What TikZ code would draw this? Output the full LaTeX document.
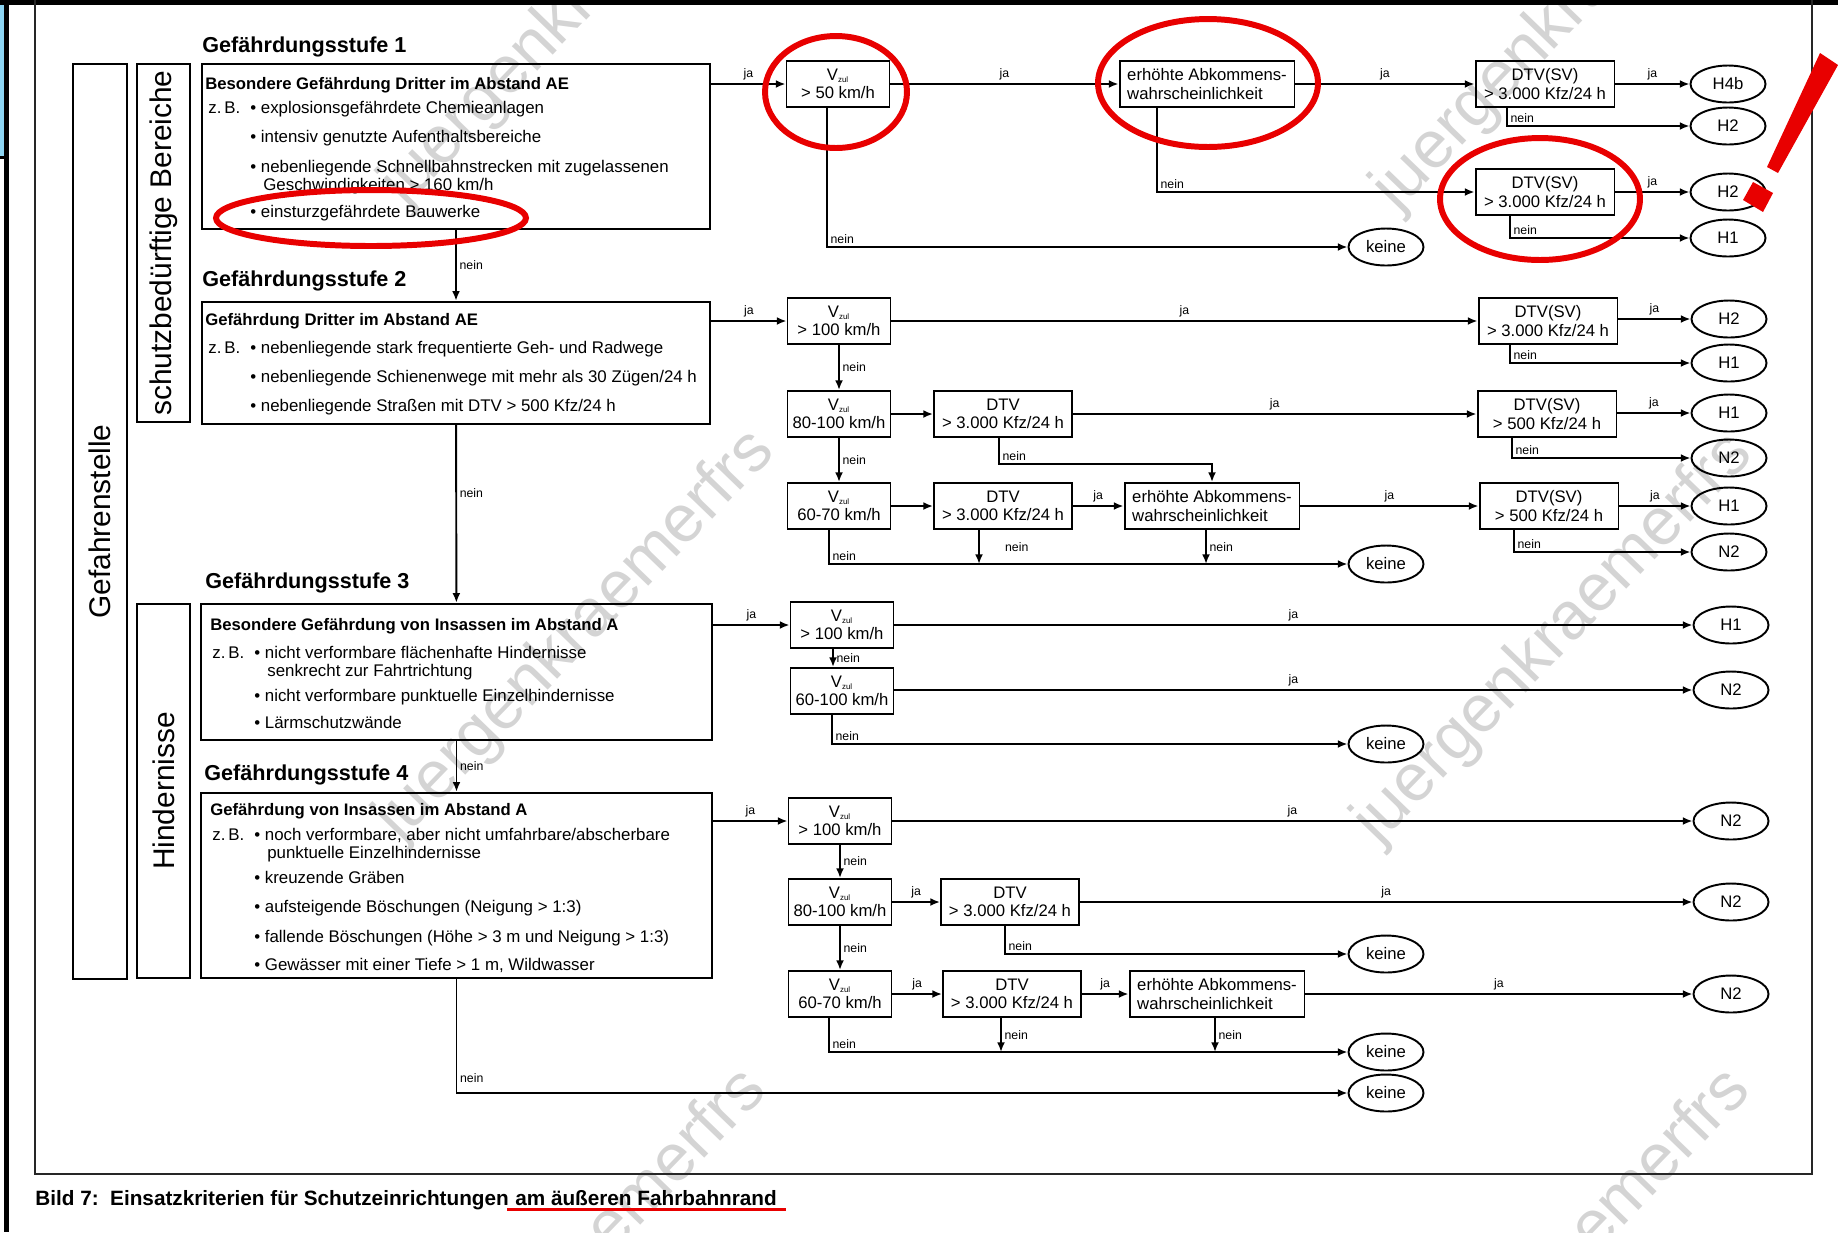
\documentclass[tikz,border=0pt]{standalone}
\usepackage{fontspec}
\setmainfont{Liberation Sans}
\usetikzlibrary{shapes.geometric, arrows.meta, positioning}
\definecolor{markred}{RGB}{232,0,0}
\definecolor{tabblue}{RGB}{140,212,242}
\newcommand{\vzul}{V\textsubscript{\fontsize{4.5}{5}\selectfont zul}}
\tikzset{
  frame/.style={line width=0.8pt, draw=black!85},
  bigbox/.style={rectangle, draw=black, line width=1.4pt, inner sep=0pt},
  sidebox/.style={rectangle, draw=black, line width=1.4pt, inner sep=0pt, rotate=90,
                  font=\fontsize{17}{20}\selectfont},
  head/.style={anchor=base west, inner sep=0pt, font=\bfseries\fontsize{12.3}{14}\selectfont},
  txt/.style={anchor=west, inner sep=0pt, font=\fontsize{9.6}{11}\selectfont,
              text height=1.6ex, text depth=0.4ex},
  ttl/.style={txt, font=\bfseries\fontsize{9.5}{11}\selectfont},
  vbox/.style={rectangle, draw=black, line width=1.1pt, align=center, inner sep=1pt,
               font=\fontsize{9.5}{10.5}\selectfont, minimum width=2.06cm, minimum height=0.92cm},
  dtvbox/.style={vbox, minimum width=2.76cm},
  svbox/.style={vbox, minimum width=2.78cm},
  erhbox/.style={vbox, align=left, minimum width=3.5cm},
  result/.style={ellipse, draw=black, line width=1.1pt, minimum width=1.5cm,
                 minimum height=0.74cm, inner sep=0pt, font=\fontsize{9.5}{11}\selectfont},
  arr/.style={-{Latex[length=5.5pt, width=4.5pt]}, line width=1.1pt},
  lbl/.style={font=\fontsize{7}{8}\selectfont, inner sep=1.5pt},
  caption/.style={anchor=base west, inner sep=0pt, font=\bfseries\fontsize{11.8}{13}\selectfont},
  redmark/.style={draw=markred, line width=3.4pt},
  wmark/.style={anchor=base west, inner sep=0pt, rotate=46, text=black!17,
                font=\fontsize{38}{40}\selectfont},
}

\begin{document}
\begin{tikzpicture}[x=0.02cm, y=-0.02cm]
  \useasboundingbox (0,0) rectangle (1838,1232);

  % watermark
  \begin{scope}
    \clip (0,0) rectangle (1838,1232);
    \foreach \wx/\wy in {405/208, 1397/213, 400/843, 1378/846, 392/1482, 1376/1482}
      \node[wmark] (wm\wx\wy) at (\wx,\wy) {juergenkraemerfrs};
  \end{scope}

  % page frame
  \fill[black] (0,0) rectangle (1838,5);
  \fill[black] (4,0) rectangle (9,1232);
  \fill[tabblue] (0,5) rectangle (4,156);
  \fill[black] (0,156) rectangle (4,159);
  \draw[frame] (35,0) -- (35,1174) -- (1812,1174) -- (1812,0);

  % side boxes
  \node[sidebox, minimum width=18.3cm, minimum height=1.08cm] (gst) at (100,521.5) {Gefahrenstelle};
  \node[sidebox, minimum width=7.16cm, minimum height=1.06cm] (sbb) at (163.5,243) {schutzbedürftige Bereiche};
  \node[sidebox, minimum width=7.48cm, minimum height=1.06cm] (hdn) at (163.5,791) {Hindernisse};

  % Gefährdungsstufe 1
  \node[head] (g1) at (202,52) {Gefährdungsstufe 1};
  \node[bigbox, minimum width=10.16cm, minimum height=3.3cm] (b1) at (456,146.5) {};
  \node[ttl] (b1t) at (205,84) {Besondere Gefährdung Dritter im Abstand AE};
  \node[txt] (b1z) at (208,108) {z.\,B.};
  \node[txt] (b1a) at (250,108) {\textbullet\ explosionsgefährdete Chemieanlagen};
  \node[txt] (b1b) at (250,137) {\textbullet\ intensiv genutzte Aufenthaltsbereiche};
  \node[txt] (b1c) at (250,167) {\textbullet\ nebenliegende Schnellbahnstrecken mit zugelassenen};
  \node[txt] (b1d) at (263,185) {Geschwindigkeiten > 160 km/h};
  \node[txt] (b1e) at (250,212) {\textbullet\ einsturzgefährdete Bauwerke};

  % Gefährdungsstufe 2
  \node[head] (g2) at (202,286) {Gefährdungsstufe 2};
  \node[bigbox, minimum width=10.16cm, minimum height=2.44cm] (b2) at (456,363) {};
  \node[ttl] (b2t) at (205,320) {Gefährdung Dritter im Abstand AE};
  \node[txt] (b2z) at (208,348) {z.\,B.};
  \node[txt] (b2a) at (250,348) {\textbullet\ nebenliegende stark frequentierte Geh- und Radwege};
  \node[txt] (b2b) at (250,377) {\textbullet\ nebenliegende Schienenwege mit mehr als 30 Zügen/24 h};
  \node[txt] (b2c) at (250,406) {\textbullet\ nebenliegende Straßen mit DTV > 500 Kfz/24 h};

  % Gefährdungsstufe 3
  \node[head] (g3) at (205,588) {Gefährdungsstufe 3};
  \node[bigbox, minimum width=10.22cm, minimum height=2.72cm] (b3) at (456.5,672) {};
  \node[ttl] (b3t) at (210,625) {Besondere Gefährdung von Insassen im Abstand A};
  \node[txt] (b3z) at (212,653) {z.\,B.};
  \node[txt] (b3a) at (254,653) {\textbullet\ nicht verformbare flächenhafte Hindernisse};
  \node[txt] (b3b) at (267,671) {senkrecht zur Fahrtrichtung};
  \node[txt] (b3c) at (254,696) {\textbullet\ nicht verformbare punktuelle Einzelhindernisse};
  \node[txt] (b3d) at (254,723) {\textbullet\ Lärmschutzwände};

  % Gefährdungsstufe 4
  \node[head] (g4) at (204,780) {Gefährdungsstufe 4};
  \node[bigbox, minimum width=10.22cm, minimum height=3.7cm] (b4) at (456.5,885.5) {};
  \node[ttl] (b4t) at (210,810) {Gefährdung von Insassen im Abstand A};
  \node[txt] (b4z) at (212,835) {z.\,B.};
  \node[txt] (b4a) at (254,835) {\textbullet\ noch verformbare, aber nicht umfahrbare/abscherbare};
  \node[txt] (b4b) at (267,853) {punktuelle Einzelhindernisse};
  \node[txt] (b4c) at (254,878) {\textbullet\ kreuzende Gräben};
  \node[txt] (b4d) at (254,907) {\textbullet\ aufsteigende Böschungen (Neigung > 1:3)};
  \node[txt] (b4e) at (254,937) {\textbullet\ fallende Böschungen (Höhe > 3 m und Neigung > 1:3)};
  \node[txt] (b4f) at (254,965) {\textbullet\ Gewässer mit einer Tiefe > 1 m, Wildwasser};

  \draw[arr] (b1) -- (b2) node[lbl, midway, right] {nein};
  \draw[arr] (b2) -- (b3) node[lbl, pos=0.38, right] {nein};
  \draw[arr] (b3) -- (b4) node[lbl, midway, right] {nein};

  % Stufe 1 decisions
  \node[vbox] (vA) at (838,84) {\vzul\\> 50 km/h};
  \node[erhbox] (eA) at (1207,84) {erhöhte Abkommens-\\wahrscheinlichkeit};
  \node[svbox] (sA1) at (1545,84) {DTV(SV)\\> 3.000 Kfz/24 h};
  \node[svbox] (sA2) at (1545,192) {DTV(SV)\\> 3.000 Kfz/24 h};
  \node[result] (rA1) at (1728,84) {H4b};
  \node[result] (rA2) at (1728,126) {H2};
  \node[result] (rA3) at (1728,192) {H2};
  \node[result] (rA4) at (1728,238) {H1};
  \node[result] (kA) at (1386,247) {keine};

  \draw[arr] (b1.east |- vA) -- (vA) node[lbl, midway, above] {ja};
  \draw[arr] (vA) -- (eA) node[lbl, midway, above] {ja};
  \draw[arr] (eA) -- (sA1) node[lbl, midway, above] {ja};
  \draw[arr] (sA1.east |- rA1) -- (rA1) node[lbl, midway, above] {ja};
  \draw[arr] ([xshift=-0.76cm]sA1.south) |- (rA2) node[lbl, pos=0.5, above right] {nein};
  \draw[arr] ([xshift=-1cm]eA.south) |- (sA2) node[lbl, pos=0.5, above right] {nein};
  \draw[arr] (sA2.east |- rA3) -- (rA3) node[lbl, midway, above] {ja};
  \draw[arr] ([xshift=-0.7cm]sA2.south) |- (rA4) node[lbl, pos=0.5, above right] {nein};
  \draw[arr] ([xshift=-0.22cm]vA.south) |- (kA) node[lbl, pos=0.5, above right] {nein};

  % Stufe 2 decisions
  \node[vbox] (vB1) at (839,321) {\vzul\\> 100 km/h};
  \node[vbox] (vB2) at (839,414) {\vzul\\80-100 km/h};
  \node[vbox] (vB3) at (839,506) {\vzul\\60-70 km/h};
  \node[dtvbox] (dB1) at (1003,414) {DTV\\> 3.000 Kfz/24 h};
  \node[dtvbox] (dB2) at (1003,506) {DTV\\> 3.000 Kfz/24 h};
  \node[erhbox] (eB) at (1212,506) {erhöhte Abkommens-\\wahrscheinlichkeit};
  \node[svbox] (sB1) at (1548,321) {DTV(SV)\\> 3.000 Kfz/24 h};
  \node[svbox] (sB2) at (1547,414) {DTV(SV)\\> 500 Kfz/24 h};
  \node[svbox] (sB3) at (1549,506) {DTV(SV)\\> 500 Kfz/24 h};
  \node[result] (rB1) at (1729,319) {H2};
  \node[result] (rB2) at (1729,363) {H1};
  \node[result] (rB3) at (1729,413) {H1};
  \node[result] (rB4) at (1729,458) {N2};
  \node[result] (rB5) at (1729,506) {H1};
  \node[result] (rB6) at (1729,552) {N2};
  \node[result] (kB) at (1386,564) {keine};

  \draw[arr] (b2.east |- vB1) -- (vB1) node[lbl, midway, above] {ja};
  \draw[arr] (vB1) -- (sB1) node[lbl, midway, above] {ja};
  \draw[arr] (sB1.east |- rB1) -- (rB1) node[lbl, midway, above] {ja};
  \draw[arr] ([xshift=-0.76cm]sB1.south) |- (rB2) node[lbl, pos=0.5, above right] {nein};
  \draw[arr] (vB1) -- (vB2) node[lbl, midway, right] {nein};
  \draw[arr] (vB2) -- (dB1);
  \draw[arr] (dB1) -- (sB2) node[lbl, midway, above] {ja};
  \draw[arr] (sB2.east |- rB3) -- (rB3) node[lbl, midway, above] {ja};
  \draw[arr] ([xshift=-0.7cm]sB2.south) |- (rB4) node[lbl, pos=0.5, above right] {nein};
  \draw[arr] ([xshift=-0.08cm]dB1.south) -- ++(0,26) node[lbl, above right] {nein} -| (eB.north);
  \draw[arr] (vB2) -- (vB3) node[lbl, midway, right] {nein};
  \draw[arr] (vB3) -- (dB2);
  \draw[arr] (dB2) -- (eB) node[lbl, midway, above] {ja};
  \draw[arr] (eB) -- (sB3) node[lbl, midway, above] {ja};
  \draw[arr] (sB3.east |- rB5) -- (rB5) node[lbl, midway, above] {ja};
  \draw[arr] ([xshift=-0.7cm]sB3.south) |- (rB6) node[lbl, pos=0.5, above right] {nein};
  \draw[arr] ([xshift=-0.2cm]vB3.south) |- (kB) node[lbl, pos=0.5, above right] {nein};
  \draw[arr] ([xshift=-0.48cm]dB2.south) -- ([xshift=-0.48cm]dB2.south |- kB)
    node[lbl, midway, right, xshift=0.45cm] {nein};
  \draw[arr] ([xshift=-0.12cm]eB.south) -- ([xshift=-0.12cm]eB.south |- kB)
    node[lbl, midway, right] {nein};

  % Stufe 3 decisions
  \node[vbox] (vC1) at (842,625) {\vzul\\> 100 km/h};
  \node[vbox] (vC2) at (842,691) {\vzul\\60-100 km/h};
  \node[result] (rC1) at (1731,625) {H1};
  \node[result] (rC2) at (1731,690) {N2};
  \node[result] (kC) at (1386,744) {keine};

  \draw[arr] (b3.east |- vC1) -- (vC1) node[lbl, midway, above] {ja};
  \draw[arr] (vC1) -- (rC1) node[lbl, midway, above] {ja};
  \draw[arr] ([xshift=-0.18cm]vC1.south) -- ([xshift=-0.18cm]vC2.north) node[lbl, midway, right] {nein};
  \draw[arr] (vC2.east |- rC2) -- (rC2) node[lbl, midway, above] {ja};
  \draw[arr] ([xshift=-0.2cm]vC2.south) |- (kC) node[lbl, pos=0.5, above right] {nein};

  % Stufe 4 decisions
  \node[vbox] (vD1) at (840,821) {\vzul\\> 100 km/h};
  \node[vbox] (vD2) at (840,902) {\vzul\\80-100 km/h};
  \node[vbox] (vD3) at (840,994) {\vzul\\60-70 km/h};
  \node[dtvbox] (dD1) at (1010,902) {DTV\\> 3.000 Kfz/24 h};
  \node[dtvbox] (dD2) at (1012,994) {DTV\\> 3.000 Kfz/24 h};
  \node[erhbox] (eD) at (1217,994) {erhöhte Abkommens-\\wahrscheinlichkeit};
  \node[result] (rD1) at (1731,821) {N2};
  \node[result] (rD2) at (1731,902) {N2};
  \node[result] (rD3) at (1731,994) {N2};
  \node[result] (kD1) at (1386,954) {keine};
  \node[result] (kD2) at (1386,1052) {keine};
  \node[result] (kD3) at (1386,1093) {keine};

  \draw[arr] (b4.east |- vD1) -- (vD1) node[lbl, midway, above] {ja};
  \draw[arr] (vD1) -- (rD1) node[lbl, midway, above] {ja};
  \draw[arr] (vD1) -- (vD2) node[lbl, midway, right] {nein};
  \draw[arr] (vD2) -- (dD1) node[lbl, midway, above] {ja};
  \draw[arr] (dD1) -- (rD2) node[lbl, midway, above] {ja};
  \draw[arr] ([xshift=-0.1cm]dD1.south) |- (kD1) node[lbl, pos=0.5, above right] {nein};
  \draw[arr] (vD2) -- (vD3) node[lbl, midway, right] {nein};
  \draw[arr] (vD3) -- (dD2) node[lbl, midway, above] {ja};
  \draw[arr] (dD2) -- (eD) node[lbl, midway, above] {ja};
  \draw[arr] (eD) -- (rD3) node[lbl, midway, above] {ja};
  \draw[arr] ([xshift=-0.22cm]vD3.south) |- (kD2) node[lbl, pos=0.5, above right] {nein};
  \draw[arr] ([xshift=-0.22cm]dD2.south) -- ([xshift=-0.22cm]dD2.south |- kD2)
    node[lbl, midway, right] {nein};
  \draw[arr] ([xshift=-0.04cm]eD.south) -- ([xshift=-0.04cm]eD.south |- kD2)
    node[lbl, midway, right] {nein};
  \draw[arr] (b4.south) |- (kD3) node[lbl, pos=0.47, above right] {nein};

  % caption
  \node[caption] (capa) at (35,1205) {Bild 7:\ \ Einsatzkriterien für Schutzeinrichtungen};
  \node[caption] (capb) at ([xshift=3.3pt]capa.base east) {am äußeren Fahrbahnrand};

  % red marks
  \draw[redmark] (836,92) ellipse [x radius=1.42cm, y radius=1.12cm];
  \draw[redmark] (1208,83) ellipse [x radius=2.2cm, y radius=1.28cm];
  \draw[redmark] (1540,199) ellipse [x radius=2.0cm, y radius=1.22cm];
  \draw[redmark] (371,218) ellipse [x radius=3.1cm, y radius=0.56cm];
  \draw[markred, line width=0.06cm] ([xshift=-0.16cm, yshift=-0.08cm]capb.base west)
    -- ([xshift=0.18cm, yshift=-0.08cm]capb.base east);
  \fill[markred] (1820,53) -- (1838,65) -- (1778,173) -- (1767,167) -- cycle;
  \fill[markred] (1753,182) -- (1773,193) -- (1763,212) -- (1743,200) -- cycle;
\end{tikzpicture}
\end{document}
